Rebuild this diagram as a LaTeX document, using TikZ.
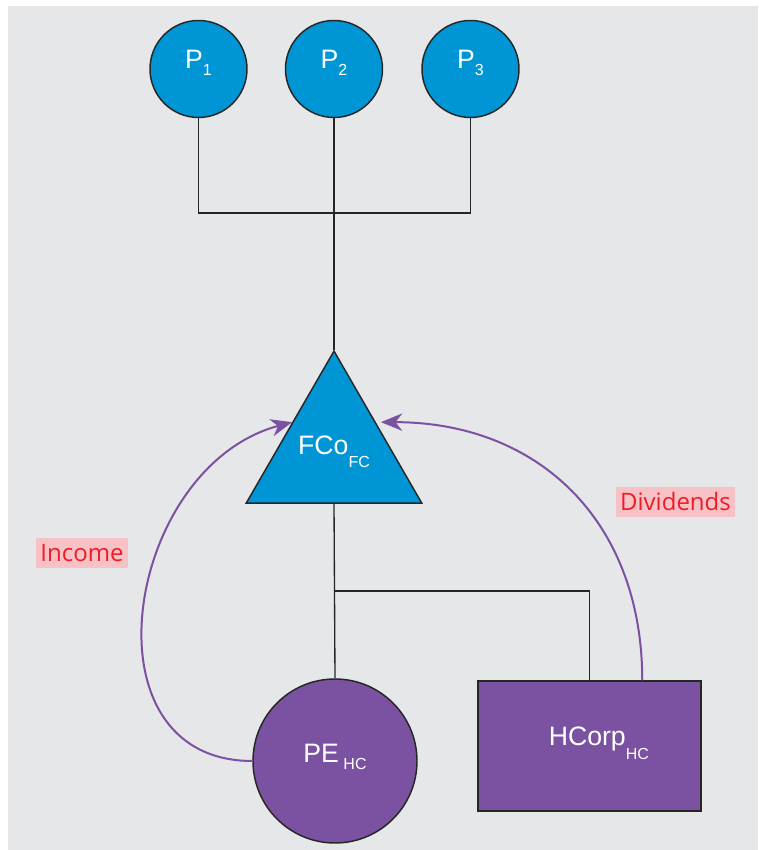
\documentclass[tikz,border=0pt]{standalone}
\usepackage{fontspec}
\setmainfont{Liberation Sans}
\newfontfamily\labelfont{Open Sans}
\usetikzlibrary{shapes.geometric,arrows.meta,calc}
\definecolor{entblue}{HTML}{0096D6}
\definecolor{entpurple}{HTML}{7B51A1}
\definecolor{bggray}{HTML}{E6E7E8}
\definecolor{tagpink}{HTML}{F8C1C6}
\definecolor{tagred}{HTML}{EE1C25}
\newcommand{\lowsub}[2]{\raisebox{-#1}{\fontsize{12}{14}\selectfont #2}}
\tikzset{
  entity/.style={draw=black!85,line width=1.1pt,text=white,inner sep=0pt,text height=15pt,text depth=15pt,font=\fontsize{20}{24}\selectfont},
  person/.style={entity,circle,fill=entblue,minimum size=72.75pt},
  holding/.style={entity,regular polygon,regular polygon sides=3,fill=entblue,minimum size=150.75pt,text depth=12pt},
  owner/.style={entity,circle,fill=entpurple,minimum size=123pt,text depth=13pt},
  firm/.style={entity,rectangle,fill=entpurple,minimum width=167.25pt,minimum height=97.5pt},
  tag/.style={fill=tagpink,text=tagred,font=\labelfont\fontsize{18}{20}\selectfont,inner xsep=3pt,inner ysep=0pt,minimum height=22.5pt},
  connector/.style={draw=black!85,line width=1pt},
  flow/.style={draw=entpurple,line width=1.5pt,-{Stealth[length=16pt,width=13pt,inset=5pt]}}
}
\begin{document}
\begin{tikzpicture}[x=0.75pt,y=0.75pt]
\fill[bggray] (8,0) rectangle (758,844);
\useasboundingbox (0,0) rectangle (758,850);
% owners
\node[person] (p1) at (198.5,781) {P\lowsub{5pt}{1}};
\node[person] (p2) at (334,781) {P\lowsub{5pt}{2}};
\node[person] (p3) at (470.5,781) {P\lowsub{5pt}{3}};
% companies
\node[holding] (fco) at (334,397.5) {FCo\lowsub{10pt}{FC}};
\node[owner] (pe) at (335,89) {PE\,\lowsub{5pt}{HC}};
\node[firm] (hcorp) at (589.5,104) {\hspace*{14pt}HCorp\lowsub{10pt}{HC}};
% labels
\node[tag] (income) at (82,297) {Income};
\node[tag] (dividends) at (675.5,348) {Dividends};
\coordinate (join) at (334,637);
\coordinate (split) at (334,259);
\draw[connector] (p1.south) |- (join) -| (p3.south);
\draw[connector] (p2.south) -- (fco.corner 1);
\draw[connector] (fco.south) -- (pe.north);
\draw[connector] (split) -| (hcorp.north);
% flows
\draw[flow] (pe.west) to[out=180,in=195,looseness=1.3] ($(fco.corner 1)!0.47!(fco.corner 2)$);
\draw[flow] ($(hcorp.north west)!0.735!(hcorp.north east)$) to[out=90,in=0,looseness=1.1] ($(fco.corner 1)!0.47!(fco.corner 3)+(5,0)$);
\end{tikzpicture}
\end{document}
